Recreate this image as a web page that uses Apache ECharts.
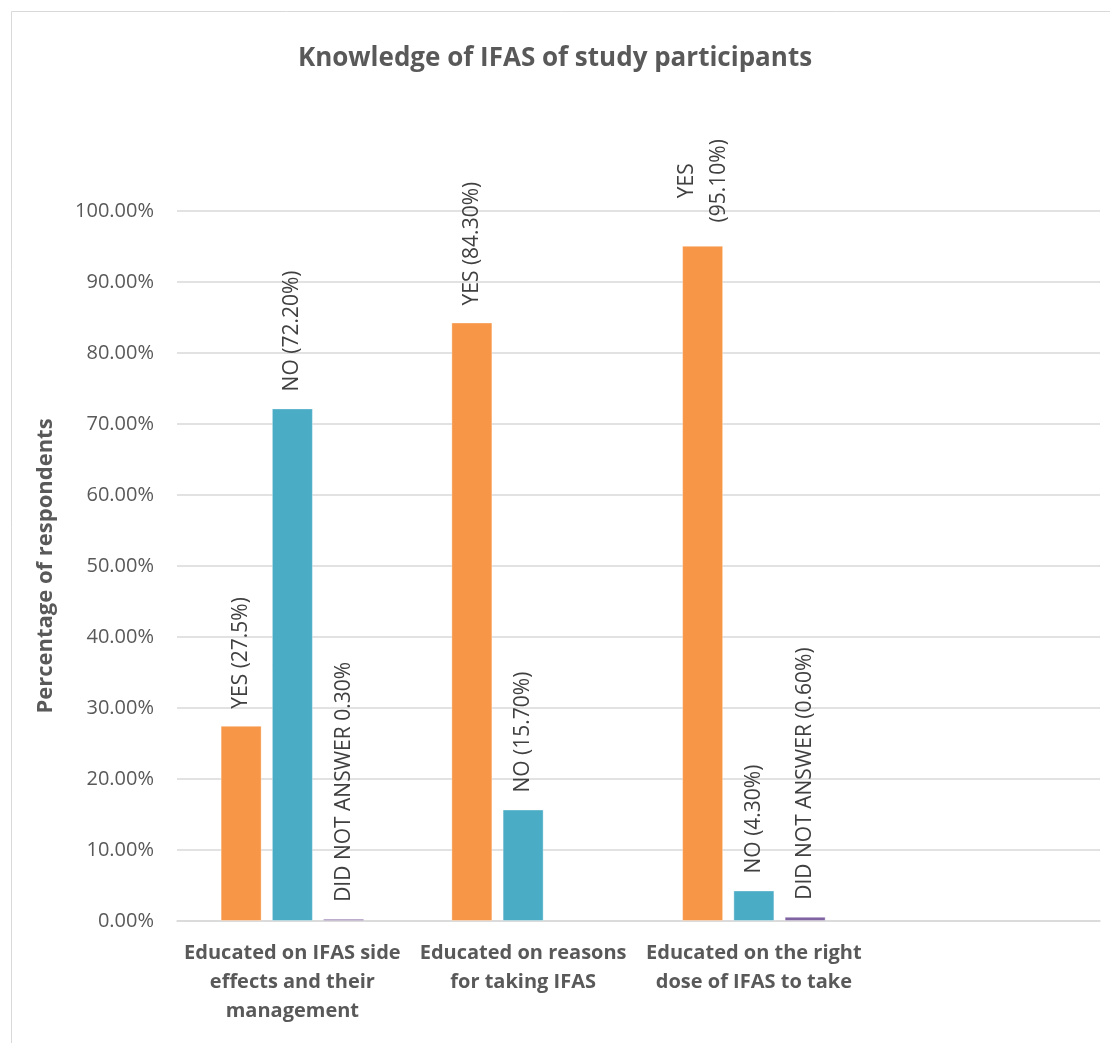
<!DOCTYPE html>
<html>
<head>
<meta charset="utf-8">
<script src="https://cdn.jsdelivr.net/npm/echarts@6/dist/echarts.min.js"></script>
<style>
html,body{margin:0;padding:0;background:#fff;}
#chart{width:1110px;height:1043px;}
</style>
</head>
<body>
<div id="chart"></div>
<script>
const categories = [
  'Educated on IFAS side\neffects and their\nmanagement',
  'Educated on reasons\nfor taking IFAS',
  'Educated on the right\ndose of IFAS to take',
  ''
];
const yesValues = [27.5, 84.3, 95.1, null];
const noValues = [72.2, 15.7, 4.3, null];
const dnaValues = [0.3, null, 0.6, null];
const yesLabels = ['YES (27.5%)', 'YES (84.30%)', 'YES\n(95.10%)', ''];
const noLabels = ['NO (72.20%)', 'NO (15.70%)', 'NO (4.30%)', ''];
const dnaLabels = ['DID NOT ANSWER 0.30%', '', 'DID NOT ANSWER (0.60%)', ''];
const yTicks = [0, 10, 20, 30, 40, 50, 60, 70, 80, 90, 100];

const FONT = '"Open Sans", sans-serif';

function buildData(values, labels) {
  return values.map((v, i) => {
    const item = { value: v, labelText: labels[i] };
    if (labels[i].indexOf('\n') >= 0) {
      item.label = { align: 'center', distance: 65, lineHeight: 32 };
    }
    return item;
  });
}

function makeSeries(name, values, labels, color) {
  return {
    name: name,
    type: 'bar',
    barWidth: 41,
    barGap: '25%',
    data: buildData(values, labels),
    itemStyle: { color: color, borderColor: 'rgba(255,255,255,0.35)', borderWidth: 1 },
    label: {
      show: true,
      position: 'top',
      rotate: 90,
      align: 'left',
      verticalAlign: 'middle',
      distance: 17,
      fontFamily: FONT,
      fontSize: 21,
      color: '#404040',
      formatter: p => p.data.labelText
    }
  };
}

const chart = echarts.init(document.getElementById('chart'), null, { renderer: 'canvas' });
chart.setOption({
  backgroundColor: '#fff',
  animation: false,
  title: {
    text: 'Knowledge of IFAS of study participants',
    left: 'center',
    top: 41,
    textStyle: { fontFamily: FONT, fontSize: 26, fontWeight: 'bold', color: '#595959' }
  },
  graphic: [{
    type: 'rect',
    shape: { x: 11.5, y: 11.5, width: 1120, height: 1060 },
    style: { fill: 'none', stroke: '#D9D9D9', lineWidth: 1 },
    silent: true
  }],
  grid: { left: 177, right: 10, top: 211, bottom: 122, containLabel: false },
  xAxis: {
    type: 'category',
    data: categories,
    axisLine: { show: true, lineStyle: { color: '#D9D9D9', width: 1.5 } },
    axisTick: { show: false },
    axisLabel: {
      interval: 0,
      margin: 18,
      fontFamily: FONT,
      fontSize: 20,
      fontWeight: 'bold',
      lineHeight: 29,
      color: '#595959',
      align: 'center'
    }
  },
  yAxis: {
    type: 'value',
    min: 0,
    max: 100,
    interval: 10,
    name: 'Percentage of respondents',
    nameLocation: 'middle',
    nameGap: 120,
    nameRotate: 90,
    nameTextStyle: { fontFamily: FONT, fontSize: 22, fontWeight: 'bold', color: '#595959' },
    axisLine: { show: false },
    axisTick: { show: false },
    splitLine: { lineStyle: { color: '#D9D9D9', width: 1.5 } },
    axisLabel: {
      margin: 23,
      fontFamily: FONT,
      fontSize: 20,
      color: '#595959',
      formatter: v => (yTicks.indexOf(v) >= 0 ? v.toFixed(2) + '%' : '')
    }
  },
  series: [
    makeSeries('YES', yesValues, yesLabels, '#F79646'),
    makeSeries('NO', noValues, noLabels, '#4BACC6'),
    makeSeries('DID NOT ANSWER', dnaValues, dnaLabels, '#8064A2')
  ]
});
</script>
</body>
</html>
